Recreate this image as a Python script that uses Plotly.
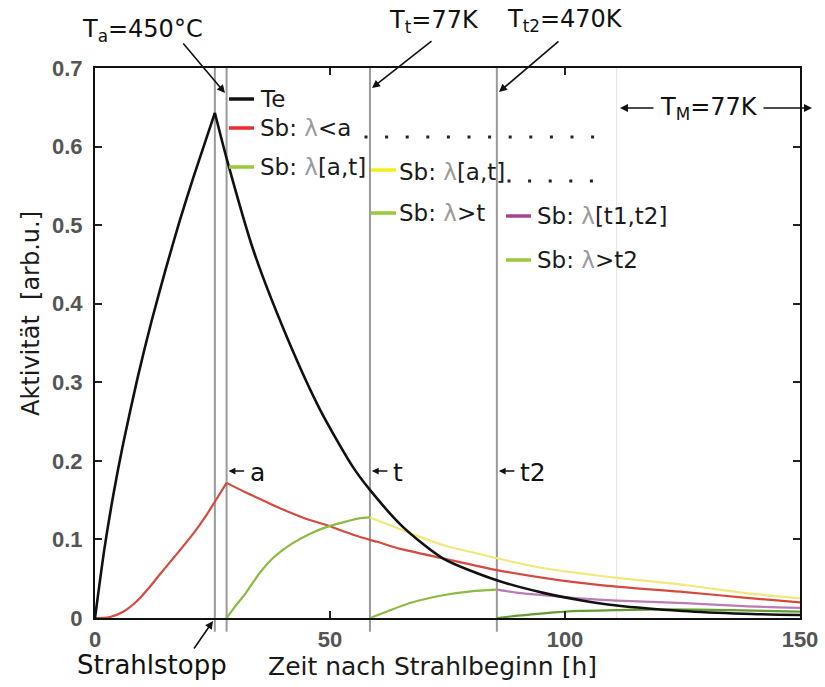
import plotly.graph_objects as go

# Zeitpunkte [h]
t_stop = 25.5   # Strahlstopp
t_a = 28.0      # Ende Phase a (450 °C)
t_t = 58.5      # Ende Phase t (77 K)
t_t2 = 85.5     # Ende Phase t2 (470 K)
t_m = 111.0     # Beginn Messung (77 K)

# Te-Aktivität
te_x = [0, 2, 4, 6, 9, 12, 15, 18, 21, 23.5, 25.5, 28, 33.7, 40.8, 47.9, 54.9, 58.5, 65.5,
        74, 85.5, 95.4, 103, 111, 125, 138, 150]
te_y = [0, 0.088, 0.160, 0.222, 0.304, 0.377, 0.443, 0.505, 0.562, 0.607, 0.643, 0.585, 0.468,
        0.358, 0.265, 0.192, 0.163, 0.116, 0.076, 0.048, 0.032, 0.023, 0.016, 0.009, 0.0055,
        0.0038]

# Sb: lambda < a
sb_a_x = [0, 3, 6, 9, 12, 14, 17, 21, 23.5, 25.5, 28, 32, 36, 40, 45, 49.4, 53, 56.4, 60, 65,
          74, 85.5, 99, 111, 125.5, 138, 150]
sb_a_y = [0, 0.001, 0.008, 0.022, 0.042, 0.057, 0.0785, 0.108, 0.129, 0.148, 0.172, 0.160, 0.149,
          0.138, 0.126, 0.118, 0.110, 0.103, 0.097, 0.088, 0.076, 0.061, 0.048, 0.040, 0.033,
          0.026, 0.020]

# Sb: lambda in [a, t] während Phase t
sb_at1_x = [28, 30, 32, 35, 38, 42, 46, 49.4, 53, 56.4, 58.5]
sb_at1_y = [0, 0.016, 0.031, 0.057, 0.077, 0.095, 0.108, 0.116, 0.122, 0.127, 0.128]

# Sb: lambda in [a, t] danach
sb_at2_x = [58.5, 62, 67, 74, 80, 85.5, 95, 103, 111, 125.5, 138, 150]
sb_at2_y = [0.128, 0.120, 0.108, 0.093, 0.084, 0.076, 0.064, 0.057, 0.051, 0.042, 0.032, 0.025]

# Sb: lambda > t
sb_t_x = [58.5, 62, 67, 74, 80, 85.5]
sb_t_y = [0, 0.008, 0.019, 0.029, 0.034, 0.036]

# Sb: lambda in [t1, t2]
sb_t12_x = [85.5, 90, 95.4, 103, 111, 125.5, 138, 150]
sb_t12_y = [0.036, 0.032, 0.029, 0.025, 0.022, 0.019, 0.015, 0.013]

# Sb: lambda > t2
sb_t2_x = [85.5, 90, 95.4, 103, 111, 120, 135, 150]
sb_t2_y = [0, 0.003, 0.006, 0.009, 0.010, 0.011, 0.010, 0.008]

x_ticks = [0, 50, 100, 150]
y_ticks = [0, 0.1, 0.2, 0.3, 0.4, 0.5, 0.6, 0.7]

BLACK = "#111111"
RED = "#d24a40"
GREEN = "#8cba42"
YELLOW = "#efe97a"
PURPLE = "#bb7ab8"
DKGREEN = "#629c33"

SW_RED = "#ee2a2a"
SW_GREEN = "#9ac83a"
SW_YELLOW = "#f6ee1a"
SW_PURPLE = "#a8448e"

FONT = "DejaVu Sans"

# Plotbereich in Pixeln
L, R, T, B = 95, 25, 68, 69
W, H = 825, 687
PW, PH = W - L - R, H - T - B


def fx(px):
    return (px - L) / PW


def fy(py):
    return (H - B - py) / PH


fig = go.Figure()


def add_curve(xs, ys, col, w, split=None):
    # glatte Kurve; an einem Knick (Maximum) in zwei Stücke geteilt
    parts = [(xs, ys)]
    if split is not None:
        k = xs.index(split)
        parts = [(xs[:k + 1], ys[:k + 1]), (xs[k:], ys[k:])]
    for px_, py_ in parts:
        fig.add_trace(go.Scatter(x=px_, y=py_, mode="lines",
                                 line=dict(color=col, width=w, shape="spline", smoothing=0.7),
                                 showlegend=False, hoverinfo="skip"))


add_curve(sb_at2_x, sb_at2_y, YELLOW, 2.2)
add_curve(sb_a_x, sb_a_y, RED, 2.2, split=t_a)
add_curve(sb_at1_x, sb_at1_y, GREEN, 2.2)
add_curve(sb_t_x, sb_t_y, GREEN, 2.2)
add_curve(sb_t12_x, sb_t12_y, PURPLE, 2.2)
add_curve(sb_t2_x, sb_t2_y, DKGREEN, 2.2)
add_curve(te_x, te_y, BLACK, 2.6, split=t_stop)

shapes = []
# Phasengrenzen
for tx in [t_stop, t_a, t_t, t_t2]:
    shapes.append(dict(type="line", xref="x", yref="paper", x0=tx, x1=tx, y0=-0.025, y1=1,
                       line=dict(color="#9a9a9a", width=2), layer="below"))
shapes.append(dict(type="line", xref="x", yref="paper", x0=t_m, x1=t_m, y0=0, y1=1,
                   line=dict(color="#e2e2e2", width=1), layer="below"))

# Legendenmarkierungen
swatches = [
    (229, 254, 99, BLACK),
    (229, 254, 128, SW_RED),
    (229, 254, 167, SW_GREEN),
    (371, 396, 170, SW_YELLOW),
    (371, 396, 213, SW_GREEN),
    (506, 531, 216, SW_PURPLE),
    (506, 531, 260, SW_GREEN),
]
for x0, x1, py, col in swatches:
    shapes.append(dict(type="line", xref="paper", yref="paper", x0=fx(x0), x1=fx(x1),
                       y0=fy(py), y1=fy(py), line=dict(color=col, width=3.5)))

# Punktlinien
for row_py, start, n in [(137, 366, 12), (181, 509, 5)]:
    for i in range(n):
        cx = start + i * 20.6
        shapes.append(dict(type="rect", xref="paper", yref="paper",
                           x0=fx(cx - 1.5), x1=fx(cx + 1.5), y0=fy(row_py + 1.5), y1=fy(row_py - 1.5),
                           fillcolor="#222222", line=dict(width=0)))

annotations = []
LG = "<span style='color:#9a9a9a'>λ</span>"
legend_texts = [
    (258, 99, "Te"),
    (258, 128, "Sb: " + LG + "<a"),
    (258, 167, "Sb: " + LG + "[a,t]"),
    (397, 172, "Sb: " + LG + "[a,t]"),
    (397, 213, "Sb: " + LG + ">t"),
    (535, 216, "Sb: " + LG + "[t1,t2]"),
    (535, 260, "Sb: " + LG + ">t2"),
]
for px, py, txt in legend_texts:
    annotations.append(dict(xref="paper", yref="paper", x=fx(px), y=fy(py), text=txt,
                            showarrow=False, xanchor="left", yanchor="middle",
                            font=dict(family=FONT, size=23, color="#1a1a1a")))


def arrow(hx, hy, tx, ty, width=1.6, size=1.0):
    annotations.append(dict(xref="paper", yref="paper", x=fx(hx), y=fy(hy), text="",
                            showarrow=True, ax=tx - hx, ay=ty - hy, axref="pixel", ayref="pixel",
                            arrowhead=2, arrowsize=size, arrowwidth=width, arrowcolor="#111111",
                            standoff=0, startstandoff=0))


def label(px, py, txt, size=24, anchor="center", color="#111111"):
    annotations.append(dict(xref="paper", yref="paper", x=fx(px), y=fy(py), text=txt,
                            showarrow=False, xanchor=anchor, yanchor="middle",
                            font=dict(family=FONT, size=size, color=color)))


# Temperaturangaben oben
label(142, 30, "T<sub>a</sub>=450°C")
arrow(225, 93, 182, 42)
label(434, 22, "T<sub>t</sub>=77K")
arrow(372, 88, 433, 40)
label(565, 20, "T<sub>t2</sub>=470K")
arrow(499, 92, 560, 40)
label(709, 108, "T<sub>M</sub>=77K")
arrow(620, 108, 655, 108)
arrow(812, 108, 762, 108)

# Markierungen an den Phasengrenzen
for tx, txt in [(t_a, "a"), (t_t, "t"), (t_t2, "t2")]:
    hx = L + tx / 150 * PW + 2
    arrow(hx, 471, hx + 17, 471, width=1.5, size=0.9)
    label(hx + 19, 472, txt, size=25, anchor="left")

# Strahlstopp
label(152, 665, "Strahlstopp", size=26)
arrow(213, 621, 193, 650)

# Achsentitel
label(432, 666, "Zeit nach Strahlbeginn [h]", size=25, color="#1a1a1a")
annotations.append(dict(xref="paper", yref="paper", x=fx(31), y=fy(314),
                        text="Aktivität  [arb.u.]", textangle=-90, showarrow=False,
                        xanchor="center", yanchor="middle",
                        font=dict(family=FONT, size=24, color="#1a1a1a")))

axis_common = dict(showgrid=False, zeroline=False, showline=True, linecolor="#111111",
                   linewidth=2.2, mirror="ticks", ticks="inside", ticklen=7, tickwidth=2,
                   tickcolor="#222222", automargin=False,
                   tickfont=dict(family="Liberation Sans", size=22, color="#555555", weight="bold"))

fig.update_layout(
    width=W, height=H,
    margin=dict(l=L, r=R, t=T, b=B),
    paper_bgcolor="white", plot_bgcolor="white",
    xaxis=dict(range=[0, 150], tickvals=x_ticks, ticktext=[str(v) for v in x_ticks],
               ticklabelstandoff=0, **axis_common),
    yaxis=dict(range=[0, 0.7], tickvals=y_ticks, ticktext=["0"] + [f"{v:.1f}" for v in y_ticks[1:]],
               ticklabelstandoff=6, **axis_common),
    shapes=shapes,
    annotations=annotations,
)

fig.write_html("out.html")
